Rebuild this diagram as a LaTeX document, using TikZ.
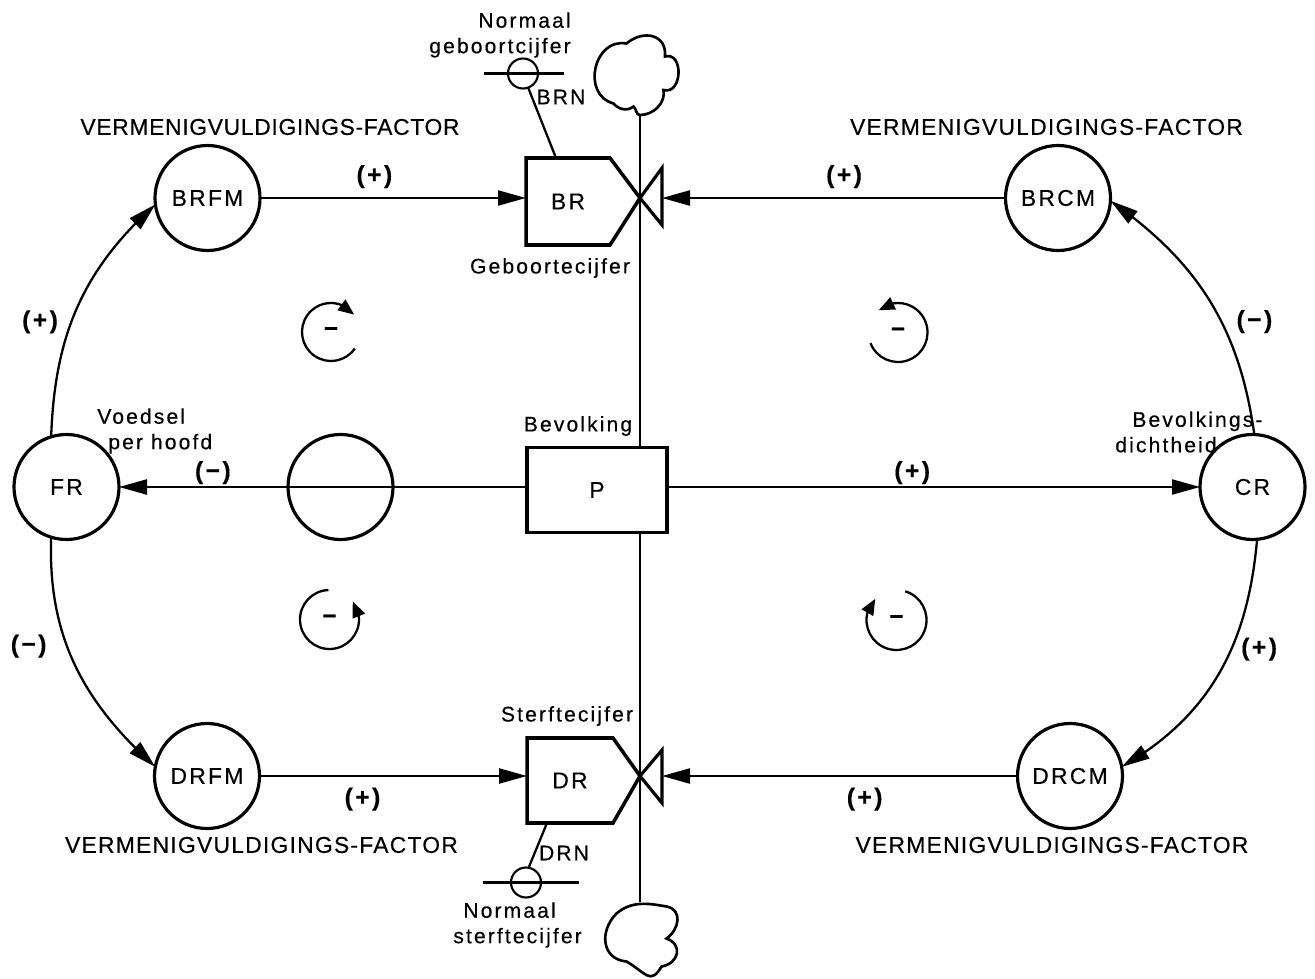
\documentclass[tikz,border=0pt]{standalone}
\usepackage{fontspec}
\setmainfont[LetterSpace=3,FakeBold=0.35]{Liberation Sans}
\newfontfamily\widefont[LetterSpace=10,FakeBold=0.35]{Liberation Sans}
\newfontfamily\captfont[LetterSpace=5.5,FakeBold=0.35]{Liberation Sans}
\usetikzlibrary{arrows.meta, bending, positioning, calc}
\tikzset{
	levelbox/.style ={rectangle, draw=black, line width=2pt, minimum width=2.8cm, minimum height=1.7cm, inner sep=0pt, outer sep=0pt, font=\widefont\fontsize{13}{15}\selectfont},
	ratebox/.style  ={rectangle, inner sep=0pt, outer sep=0pt, font=\widefont\fontsize{13}{15}\selectfont},
	ratepath/.style ={draw=black, line width=2pt},
	aux/.style      ={circle, draw=black, line width=1.8pt, minimum size=2.1cm, inner sep=0pt, outer sep=0pt, font=\widefont\fontsize{13}{15}\selectfont},
	const/.style    ={circle, draw=black, line width=1.2pt, minimum size=0.6cm, inner sep=0pt, outer sep=0pt},
	sink/.style     ={line width=1.5pt},
	capt/.style     ={font=\fontsize{13}{15}\selectfont, inner sep=0pt},
	captw/.style    ={font=\captfont\fontsize{13}{15}\selectfont, inner sep=0pt},
	lab/.style      ={font=\widefont\fontsize{12}{14.5}\selectfont, inner sep=0pt, align=center},
	signtxt/.style  ={font=\widefont\bfseries\fontsize{14}{15}\selectfont, inner sep=1pt},
	sig/.style      ={-{Stealth[length=0.56cm, width=0.3cm, inset=0pt]}, line width=1.3pt},
	flowline/.style ={line width=1.3pt},
	loopa/.style    ={-{Stealth[length=0.32cm, width=0.26cm, inset=0pt]}, line width=1.3pt},
}
\begin{document}
\begin{tikzpicture}
	\useasboundingbox (0,0) rectangle (26.3,19.56);
	% levels and rates
	\node[levelbox] (P) at (11.94,9.76) {P};
	\node[ratebox, minimum width=1.68cm, minimum height=1.74cm] (BR) at (11.36,15.53) {BR};
	\node[ratebox, minimum width=1.72cm, minimum height=1.70cm] (DR) at (11.40,3.95) {DR};
	\coordinate (tipBR) at (12.80,15.60);
	\coordinate (tipDR) at (12.80,4.04);
	\draw[ratepath] (BR.north east) -- (tipBR) -- (BR.south east) -- (BR.south west) -- (BR.north west) -- cycle;
	\draw[ratepath] (DR.north east) -- (tipDR) -- (DR.south east) -- (DR.south west) -- (DR.north west) -- cycle;
	% circles
	\node[aux, left=2.68cm of P, yshift=0.06cm] (M) {};
	\node[aux, left=3.38cm of M] (FR) {FR};
	\node[aux, right=10.66cm of P, yshift=0.06cm] (CR) {CR};
	\node[aux] (BRFM) at (4.15,15.60) {BRFM};
	\node[aux] (BRCM) at (21.16,15.60) {BRCM};
	\node[aux] (DRFM) at (4.14,4.04) {DRFM};
	\node[aux] (DRCM) at (21.40,4.04) {DRCM};
	\node[const] (BRN) at (10.46,18.09) {};
	\node[const] (DRN) at (10.52,1.91) {};
	% clouds
	\coordinate (cloudT) at (12.80,17.26);
	\coordinate (cloudB) at (12.80,1.52);
	\begin{scope}[shift={(12.76,18.08)}]
		\draw[sink] (-0.09,-0.65) to[out=220, in=-50] (-0.49,-0.59)
			to[out=165, in=170, looseness=1.4] (-0.23,0.61)
			to[out=40, in=85, looseness=1.4] (0.54,0.35)
			to[out=15, in=-15, looseness=1.5] (0.51,-0.32)
			to[out=-80, in=0] (0.04,-0.82)
			to[out=180, in=-40] cycle;
	\end{scope}
	\begin{scope}[shift={(12.82,0.70)}]
		\draw[sink] (0.51,0.09) to[out=-20, in=10, looseness=1.6] (0.41,-0.47)
			to[out=-120, in=-30, looseness=1.6] (-0.29,-0.37)
			to[out=175, in=225, looseness=1.3] (-0.49,0.59)
			to[out=40, in=170] (0.51,0.73)
			to[out=-10, in=35, looseness=1.3] cycle;
	\end{scope}
	% valves
	\coordinate (vBR) at ($(tipBR)+(0.44,0)$);
	\coordinate (vDR) at ($(tipDR)+(0.44,0)$);
	\draw[line width=1.8pt] (tipBR) -- ++(0.44,0.60) -- ++(0,-1.14) -- cycle;
	\draw[line width=1.8pt] (tipDR) -- ++(0.44,0.52) -- ++(0,-1.06) -- cycle;
	% flows
	\draw[flowline] (cloudT) -- (cloudT |- P.north);
	\draw[flowline] (cloudB |- P.south) -- (cloudB);
	\draw[flowline] ($(BRN)+(-0.78,0)$) -- ($(BRN)+(0.82,0)$);
	\draw[flowline] ($(DRN)+(-0.86,0)$) -- ($(DRN)+(1.06,0)$);
	\draw[flowline] (BRN.-70) -- (11.12,16.40);
	\draw[flowline] (DRN.80) -- (10.94,3.10);
	% signals
	\draw[sig] (BRFM) -- node[signtxt, pos=0.43, above=4pt] {(+)} (BRFM -| BR.west);
	\draw[sig] (BRCM) -- node[signtxt, pos=0.47, above=4pt] {(+)} (vBR);
	\draw[sig] (DRFM) -- node[signtxt, pos=0.385, below=5pt] {(+)} (DRFM -| DR.west);
	\draw[sig] (DRCM) -- node[signtxt, pos=0.43, below=5pt] {(+)} (vDR);
	\draw[sig] (P.east |- CR) -- node[signtxt, pos=0.46, above=0pt] {(+)} (CR);
	\draw[sig] (P.west |- FR) -- node[signtxt, pos=0.77, above=0pt] {(−)} (FR);
	\draw[sig] (FR.107) to[out=88, in=222] node[signtxt, pos=0.44, left=6pt] {(+)} (BRFM.187);
	\draw[sig] (FR.-107) to[out=-92, in=138] node[signtxt, pos=0.42, left=10pt] {(−)} (DRFM.170);
	\draw[sig] (CR.88) to[out=98, in=-35] node[signtxt, pos=0.41, right=7pt] {(−)} (BRCM.-3);
	\draw[sig] (CR.-85) to[out=-95, in=30] node[signtxt, pos=0.40, right=4pt] {(+)} (DRCM.10);
	% loops
	\node[signtxt] (LT) at (6.62,12.92) {−};
	\node[signtxt] (LB) at (6.59,7.17) {−};
	\node[signtxt] (RT) at (17.96,12.91) {−};
	\node[signtxt] (RB) at (17.93,7.16) {−};
	\draw[loopa] ($(LT)+(-35:0.58)$) arc[start angle=-35, end angle=-323, radius=0.58];
	\draw[loopa] ($(LB)+(92:0.59)$) arc[start angle=92, end angle=398, radius=0.59];
	\draw[loopa] ($(RT)+(201:0.59)$) arc[start angle=201, end angle=491, radius=0.59];
	\draw[loopa] ($(RB)+(73:0.6)$) arc[start angle=73, end angle=-225, radius=0.6];
	% texts
	\node[capt] (vfTL) at (5.40,17.02) {VERMENIGVULDIGINGS-FACTOR};
	\node[captw] (vfTR) at (20.93,17.02) {VERMENIGVULDIGINGS-FACTOR};
	\node[captw] (vfBL) at (5.23,2.66) {VERMENIGVULDIGINGS-FACTOR};
	\node[captw] (vfBR) at (21.04,2.66) {VERMENIGVULDIGINGS-FACTOR};
	\node[lab, anchor=east, align=right] (tBRN) at (11.42,18.86) {Normaal\\geboortcijfer};
	\node[lab] (tBRNn) at (11.22,17.62) {BRN};
	\node[lab] (tBR) at (11.00,14.20) {Geboortecijfer};
	\node[lab] (tP) at (11.56,11.04) {Bevolking};
	\node[lab] (tDR) at (11.34,5.24) {Sterftecijfer};
	\node[lab] (tDRNn) at (11.28,2.50) {DRN};
	\node[lab, anchor=west, align=left] (tDRN) at (9.06,1.06) {\hspace*{0.2cm}Normaal\\sterftecijfer};
	\node[lab, anchor=west, align=left] (tFR) at (1.94,10.94) {Voedsel\\\hspace*{0.22cm}per hoofd};
	\node[lab, anchor=west, align=left] (tCR) at (22.30,10.92) {\hspace*{0.34cm}Bevolkings-\\dichtheid};
\end{tikzpicture}
\end{document}
